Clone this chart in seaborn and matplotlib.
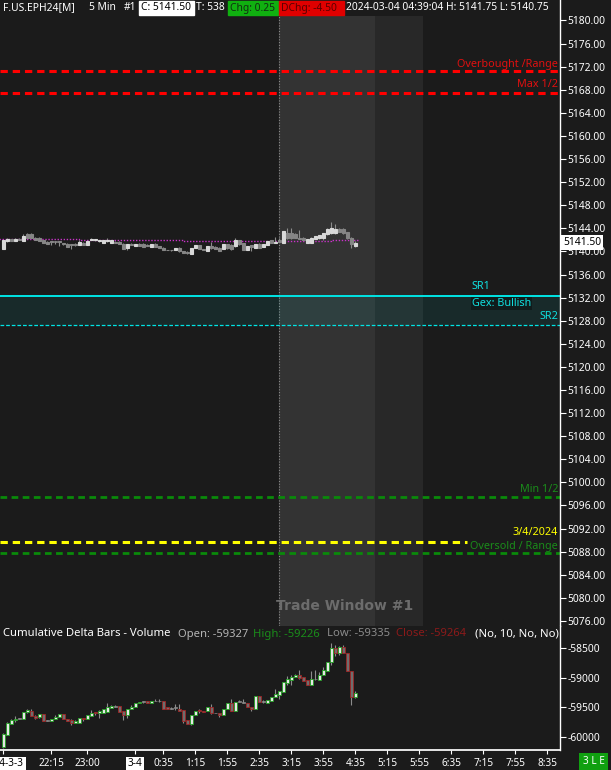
import numpy as np
import pandas as pd
import matplotlib
matplotlib.use("Agg")
import matplotlib.pyplot as plt
import seaborn as sns
from matplotlib.patches import Rectangle

# ES 5 min bars, bar 0 = 21:15 (3 Mar), last bar = 4:35 (4 Mar)
es_open = [5140.50, 5141.75, 5142.10, 5141.80, 5142.15, 5141.80, 5143.10, 5143.10, 5142.40, 5142.40,
           5141.90, 5141.70, 5141.70, 5141.70, 5141.70, 5141.45, 5141.35, 5141.20, 5141.35, 5141.20,
           5141.55, 5141.10, 5142.05, 5141.95, 5141.80, 5141.55, 5141.80, 5141.55, 5141.70, 5141.70,
           5141.35, 5140.65, 5141.35, 5141.00, 5141.35, 5141.35, 5141.20, 5140.75, 5141.35, 5140.90,
           5140.65, 5140.25, 5140.25, 5140.20, 5140.65, 5140.05, 5139.95, 5139.50, 5140.60, 5141.10,
           5140.30, 5140.00, 5140.90, 5140.75, 5140.65, 5140.40, 5141.30, 5141.20, 5140.90, 5141.90,
           5141.45, 5140.30, 5141.10, 5140.65, 5141.35, 5140.75, 5141.10, 5141.90, 5141.55, 5142.00,
           5141.55, 5143.20, 5143.20, 5143.10, 5142.40, 5142.40, 5141.45, 5141.55, 5142.15, 5142.25,
           5142.40, 5142.95, 5143.20, 5143.20, 5143.90, 5143.90, 5143.40, 5142.40, 5141.00]
es_high = [5142.00, 5142.40, 5142.20, 5142.25, 5142.40, 5143.00, 5143.20, 5143.15, 5142.50, 5142.45,
           5141.95, 5141.75, 5141.70, 5141.75, 5141.75, 5141.50, 5141.40, 5141.25, 5141.40, 5141.90,
           5141.60, 5141.85, 5142.40, 5142.10, 5141.95, 5142.05, 5142.40, 5141.95, 5141.75, 5141.75,
           5141.40, 5141.35, 5141.40, 5141.35, 5141.40, 5141.40, 5141.25, 5141.35, 5141.40, 5140.95,
           5140.70, 5140.30, 5140.30, 5140.65, 5140.70, 5140.10, 5140.05, 5140.65, 5141.20, 5141.15,
           5140.35, 5140.90, 5141.70, 5140.90, 5140.70, 5141.35, 5141.35, 5141.25, 5142.40, 5142.00,
           5141.50, 5140.95, 5141.20, 5141.35, 5141.40, 5141.35, 5141.80, 5141.95, 5142.50, 5142.25,
           5143.55, 5144.10, 5144.10, 5143.20, 5143.65, 5142.50, 5142.20, 5142.45, 5142.65, 5142.90,
           5143.25, 5144.00, 5145.15, 5144.70, 5144.00, 5144.00, 5143.45, 5142.50, 5141.75]
es_low = [5140.50, 5141.60, 5141.75, 5141.75, 5141.90, 5141.75, 5142.40, 5142.25, 5141.90, 5141.75,
          5141.45, 5141.25, 5141.20, 5141.25, 5141.00, 5141.20, 5140.75, 5140.40, 5141.00, 5141.20,
          5141.10, 5141.10, 5141.90, 5141.75, 5141.60, 5141.55, 5141.70, 5141.55, 5141.45, 5141.25,
          5140.50, 5140.30, 5141.10, 5141.00, 5141.00, 5140.75, 5140.90, 5140.75, 5140.75, 5140.65,
          5140.20, 5140.20, 5140.05, 5140.20, 5139.95, 5139.70, 5139.60, 5139.50, 5140.60, 5140.40,
          5140.20, 5140.00, 5140.50, 5140.40, 5140.00, 5140.40, 5140.50, 5140.30, 5140.85, 5141.20,
          5140.20, 5140.30, 5140.00, 5140.60, 5140.60, 5140.70, 5141.10, 5141.50, 5141.50, 5141.60,
          5141.55, 5142.15, 5142.20, 5142.35, 5142.10, 5141.90, 5141.40, 5141.50, 5142.10, 5142.20,
          5142.00, 5142.90, 5143.10, 5143.10, 5143.35, 5143.10, 5142.20, 5140.65, 5140.75]
es_close = [5141.90, 5142.15, 5141.80, 5142.15, 5142.00, 5142.60, 5142.40, 5142.30, 5141.95, 5141.80,
            5141.50, 5141.25, 5141.65, 5141.70, 5141.65, 5141.25, 5140.80, 5141.15, 5141.05, 5141.70,
            5141.15, 5141.80, 5142.15, 5142.05, 5141.90, 5142.05, 5142.05, 5141.90, 5141.50, 5141.30,
            5140.50, 5141.35, 5141.10, 5141.35, 5141.00, 5140.80, 5140.95, 5141.35, 5140.75, 5140.65,
            5140.20, 5140.20, 5140.20, 5140.65, 5140.00, 5139.75, 5139.65, 5140.65, 5141.20, 5140.45,
            5140.25, 5140.90, 5140.65, 5140.45, 5140.05, 5141.35, 5140.55, 5140.35, 5142.05, 5141.25,
            5140.25, 5140.90, 5140.70, 5141.35, 5140.65, 5141.35, 5141.80, 5141.55, 5141.70, 5141.70,
            5143.55, 5142.40, 5142.25, 5142.40, 5142.15, 5141.90, 5142.15, 5142.40, 5142.60, 5142.85,
            5143.20, 5143.90, 5144.00, 5143.90, 5143.40, 5143.20, 5142.25, 5141.35, 5141.50]

# Cumulative delta bars (volume)
cd_open = [-60174, -59960, -59781, -59713, -59691, -59702, -59578, -59556, -59646, -59668,
           -59612, -59725, -59730, -59702, -59657, -59612, -59691, -59714, -59758, -59770,
           -59680, -59702, -59646, -59578, -59590, -59590, -59578, -59511, -59477, -59477,
           -59556, -59635, -59534, -59500, -59432, -59410, -59387, -59432, -59398, -59398,
           -59387, -59500, -59511, -59511, -59522, -59545, -59714, -59781, -59635, -59545,
           -59556, -59567, -59500, -59590, -59590, -59623, -59522, -59421, -59567, -59398,
           -59410, -59421, -59500, -59522, -59309, -59398, -59421, -59387, -59331, -59286,
           -59242, -59084, -59039, -58994, -58949, -58983, -59039, -59118, -59028, -59039,
           -58960, -58882, -58736, -58500, -58579, -58489, -58590, -58893, -59327]
cd_high = [-59938, -59747, -59702, -59646, -59685, -59578, -59522, -59522, -59623, -59612,
           -59612, -59719, -59702, -59635, -59612, -59612, -59691, -59691, -59719, -59680,
           -59680, -59635, -59545, -59578, -59545, -59534, -59421, -59466, -59455, -59477,
           -59556, -59522, -59466, -59432, -59410, -59387, -59387, -59387, -59365, -59365,
           -59387, -59500, -59500, -59444, -59444, -59545, -59714, -59635, -59556, -59534,
           -59556, -59500, -59444, -59590, -59590, -59522, -59432, -59365, -59410, -59376,
           -59365, -59421, -59500, -59309, -59309, -59376, -59376, -59320, -59196, -59219,
           -59073, -58972, -58960, -58938, -58871, -58983, -59039, -58893, -58871, -58905,
           -58815, -58736, -58421, -58444, -58466, -58455, -58590, -58893, -59226]
cd_low = [-60185, -59960, -59781, -59747, -59702, -59702, -59590, -59646, -59702, -59680,
          -59725, -59736, -59736, -59702, -59657, -59691, -59736, -59792, -59770, -59770,
          -59725, -59702, -59646, -59624, -59680, -59590, -59578, -59511, -59500, -59578,
          -59714, -59680, -59534, -59500, -59432, -59421, -59432, -59432, -59398, -59410,
          -59522, -59522, -59522, -59545, -59556, -59770, -59781, -59803, -59635, -59590,
          -59578, -59567, -59612, -59601, -59668, -59623, -59522, -59567, -59567, -59410,
          -59432, -59500, -59567, -59522, -59410, -59421, -59421, -59387, -59331, -59353,
          -59242, -59118, -59118, -58994, -59028, -59062, -59118, -59118, -59039, -59039,
          -58960, -58882, -58792, -58635, -58624, -58590, -58893, -59455, -59335]
cd_close = [-59949, -59758, -59713, -59691, -59697, -59578, -59545, -59646, -59680, -59612,
            -59725, -59730, -59702, -59657, -59612, -59691, -59736, -59758, -59736, -59680,
            -59702, -59635, -59590, -59601, -59567, -59534, -59500, -59477, -59489, -59578,
            -59635, -59522, -59489, -59432, -59410, -59398, -59432, -59387, -59387, -59398,
            -59522, -59522, -59522, -59511, -59556, -59725, -59781, -59635, -59556, -59567,
            -59578, -59500, -59601, -59601, -59635, -59522, -59432, -59567, -59410, -59410,
            -59421, -59500, -59522, -59309, -59410, -59410, -59376, -59320, -59275, -59219,
            -59073, -59017, -58983, -58949, -59005, -59062, -59118, -59028, -59028, -58949,
            -58871, -58736, -58500, -58579, -58489, -58590, -58893, -59331, -59264]

# dotted reference line (steps)
ref_bar = [-1, 19, 45, 82, 89]
ref_val = [5142.10, 5141.93, 5141.75, 5141.93, 5141.93]

# horizontal levels
overbought = 5171.25
max_half = 5167.5
sr1 = 5132.25
sr2 = 5127.25
min_half = 5097.5
settle_line = 5089.75
oversold = 5087.75

tick_bars = [0, 12, 21, 33, 40, 48, 56, 64, 72, 80, 88, 96, 104, 112, 120, 128, 136]
tick_text = ["2024-3-3", "22:15", "23:00", "3-4", "0:35", "1:15", "1:55", "2:35", "3:15",
             "3:55", "4:35", "5:15", "5:55", "6:35", "7:15", "7:55", "8:35"]
window_start, window_end, window_after = 69, 93, 105

BG = "#1b1b1b"
sns.set_theme(style="dark", rc={"axes.facecolor": BG, "figure.facecolor": BG,
                                "axes.edgecolor": "white", "text.color": "white",
                                "xtick.color": "white", "ytick.color": "white"})
plt.rcParams["font.family"] = ["Noto Sans", "DejaVu Sans"]
plt.rcParams["axes.unicode_minus"] = False

W, H = 611, 770
fx = lambda px: px / W
fy = lambda py: 1 - py / H

fig = plt.figure(figsize=(6.11, 7.70), dpi=100)
ax1 = fig.add_axes([0, fy(626), fx(560), 626 / H])
ax2 = fig.add_axes([0, fy(750), fx(560), 124 / H])

xlim = (-0.83, 139.17)
for ax in (ax1, ax2):
    ax.set_xlim(*xlim)
    ax.grid(False)
    for s in ("left", "top", "bottom"):
        ax.spines[s].set_visible(False)
    ax.spines["right"].set_color("white")
    ax.spines["right"].set_linewidth(1)
    ax.yaxis.tick_right()
    ax.tick_params(axis="y", right=True, left=False, labelright=True, labelleft=False,
                   colors="white", length=4, width=0.8, pad=1.5, labelsize=7.4)
ax1.set_ylim(5075.13, 5183.55)
ax2.set_ylim(-60219, -58129)
ax2.spines["bottom"].set_visible(True)
ax2.spines["bottom"].set_color("white")

x = np.arange(len(es_open))


def candles(ax, o, h, l, c, up_face, dn_face, up_edge, dn_edge, wick, min_h, flat, elw):
    o, h, l, c = map(np.asarray, (o, h, l, c))
    ax.vlines(x, l, h, color=wick, lw=0.8, zorder=3)
    bottom = np.minimum(o, c)
    size = np.abs(c - o)
    height = np.maximum(size, min_h)
    up = (c > o) & (size >= flat)
    dn = (c < o) & (size >= flat)
    fl = size < flat
    ax.bar(x[up], height[up], bottom=bottom[up], width=0.72, color=up_face,
           edgecolor=up_edge, lw=elw, zorder=4)
    ax.bar(x[dn], height[dn], bottom=bottom[dn], width=0.72, color=dn_face,
           edgecolor=dn_edge, lw=elw, zorder=4)
    ax.bar(x[fl], height[fl], bottom=bottom[fl], width=0.72, color="#8a8a8a",
           edgecolor="#8a8a8a", lw=0.5, zorder=4)


# trade window shading
ax1.axvspan(window_start, window_end, ymax=1 - 16 / 626, color="#333333", lw=0, zorder=0)
ax1.axvspan(window_end, window_after, ymax=1 - 16 / 626, color="#282828", lw=0, zorder=0)
ax1.axvline(window_start, ymax=1 - 16 / 626, color="#8a8a8a", lw=0.8, ls=(0, (1, 1.5)), zorder=1)
ax1.text(85.4, 5078.6, "Trade Window #1", ha="center", va="center", fontsize=10,
         fontweight="bold", color="#6c6c6c", family=["DejaVu Sans"], zorder=1)

# levels
ax1.axhspan(sr2, sr1, color="#00e5e5", alpha=0.08, lw=0, zorder=1)
ax1.axhline(sr1, color="#00e5e5", lw=1.4, zorder=2)
ax1.axhline(sr2, color="#00e5e5", lw=0.9, ls=(0, (3, 1.5)), zorder=2)
ax1.axhline(overbought, color="#ff0000", lw=2.2, ls=(0, (2.4, 1.6)), zorder=2)
ax1.axhline(max_half, color="#ff0000", lw=2.2, ls=(0, (2.4, 1.6)), zorder=2)
ax1.axhline(min_half, color="#0a8a0a", lw=2.0, ls=(0, (2.4, 1.6)), zorder=2)
ax1.axhline(oversold, color="#0a8a0a", lw=2.0, ls=(0, (2.4, 1.6)), zorder=2)
ax1.plot([xlim[0], 116], [settle_line, settle_line], color="#ffff00", lw=2.2,
         ls=(0, (2.4, 1.6)), zorder=2)

lab = dict(xycoords=("axes fraction", "data"), textcoords="offset points",
           fontsize=7.8, va="center")
ax1.annotate("Overbought /Range", xy=(0.9965, overbought), xytext=(0, 4.8), ha="right",
             color="#e01010", **lab)
ax1.annotate("Max 1/2", xy=(0.9965, max_half), xytext=(0, 6), ha="right", color="#e01010", **lab)
ax1.annotate("SR1", xy=(471.7 / 560, sr1), xytext=(0, 6.7), ha="left", color="#10e0e0", **lab)
ax1.annotate("Gex: Bullish", xy=(471.7 / 560, sr1), xytext=(0, -5.5), ha="left", color="#10e0e0",
             bbox=dict(facecolor="#101c1c", edgecolor="none", pad=0.6), **lab)
ax1.annotate("SR2", xy=(0.9965, sr2), xytext=(0, 6), ha="right", color="#10e0e0", **lab)
ax1.annotate("Min 1/2", xy=(0.9965, min_half), xytext=(0, 5.3), ha="right", color="#1a8c1a", **lab)
ax1.annotate("3/4/2024", xy=(0.9965, settle_line), xytext=(0, 6.2), ha="right", color="#ffff00", **lab)
ax1.annotate("Oversold / Range", xy=(0.9965, oversold), xytext=(0, 4.8), ha="right",
             color="#1a8c1a", **lab)

# reference step line
ref = pd.DataFrame({"bar": ref_bar, "val": ref_val})
sns.lineplot(data=ref, x="bar", y="val", ax=ax1, drawstyle="steps-post", color="#c832c8",
             lw=1, ls=(0, (1, 1.2)), zorder=3)
ax1.set_xlabel("")
ax1.set_ylabel("")

candles(ax1, es_open, es_high, es_low, es_close, "#d8d8d8", "#858585", "#d8d8d8", "#858585",
        "#8c8c8c", 0.12, 0.04, 0.8)
candles(ax2, cd_open, cd_high, cd_low, cd_close, "#e6e6e6", "#6e6e6e", "#22a022", "#a02525",
        "#8c8c8c", 12, 14, 0.6)

ax1.set_yticks(np.arange(5076, 5181, 4))
ax1.set_yticklabels([f"{v:.2f}" for v in np.arange(5076, 5181, 4)])
ax1.set_xticks([])
ax2.set_yticks([-58500, -59000, -59500, -60000])
ax2.set_yticklabels(["-58500", "-59000", "-59500", "-60000"])
ax2.set_xticks(tick_bars)
ax2.set_xticklabels(tick_text)
ax2.tick_params(axis="x", bottom=True, colors="white", length=3, width=0.8, pad=3, labelsize=7.2)
for t in ax2.get_xticklabels():
    if t.get_text() in ("2024-3-3", "3-4"):
        t.set_color("black")
        t.set_bbox(dict(facecolor="white", edgecolor="none", pad=1.2))

# last price box
ax1.text(1.0054, es_close[-1], f"{es_close[-1]:.2f}", transform=ax1.get_yaxis_transform(),
         ha="left", va="center", fontsize=7.4, color="black", clip_on=False, zorder=10,
         bbox=dict(facecolor="white", edgecolor="none", pad=1.4))

# header
fs = 7.4
fig.patches.append(Rectangle((fx(139), fy(15)), fx(194) - fx(139), 14 / H, transform=fig.transFigure,
                             color="white", zorder=5))
fig.patches.append(Rectangle((fx(228), fy(15)), fx(278) - fx(228), 14 / H, transform=fig.transFigure,
                             color="#10b010", zorder=5))
fig.patches.append(Rectangle((fx(279), fy(15)), fx(344) - fx(279), 14 / H, transform=fig.transFigure,
                             color="#e00000", zorder=5))
header = [(3, "F.US.EPH24[M]", "white"), (89, "5 Min", "white"), (124, "#1", "white"),
          (141, f"C: {es_close[-1]:.2f}", "black"), (196, "T: 538", "white"),
          (230, "Chg: 0.25", "#103010"), (281, "DChg: -4.50", "#5a0000"),
          (346, f"2024-03-04 04:39:04 H: {es_high[-1]:.2f} L: {es_low[-1]:.2f}", "white")]
for px, txt, col in header:
    fig.text(fx(px), fy(8), txt, color=col, fontsize=fs, va="center", ha="left", zorder=6)

# lower panel title
title = [(3, "Cumulative Delta Bars - Volume", "white"),
         (178, f"Open: {cd_open[-1]}", "#b4b4b4"),
         (253, f"High: {cd_high[-1]}", "#1a8c1a"),
         (327, f"Low: {cd_low[-1]}", "#8a8a8a"),
         (396, f"Close: {cd_close[-1]}", "#8b1a1a"),
         (475, "(No, 10, No, No)", "white")]
for px, txt, col in title:
    fig.text(fx(px), fy(634), txt, color=col, fontsize=8.1, va="center", ha="left", zorder=6)

fig.text(fx(593.5), fy(762), "3 L E", color="white", fontsize=7.2, ha="center", va="center",
         bbox=dict(facecolor="#10a010", edgecolor="none", pad=2.2))

fig.savefig("out.png", dpi=100, facecolor=BG)
